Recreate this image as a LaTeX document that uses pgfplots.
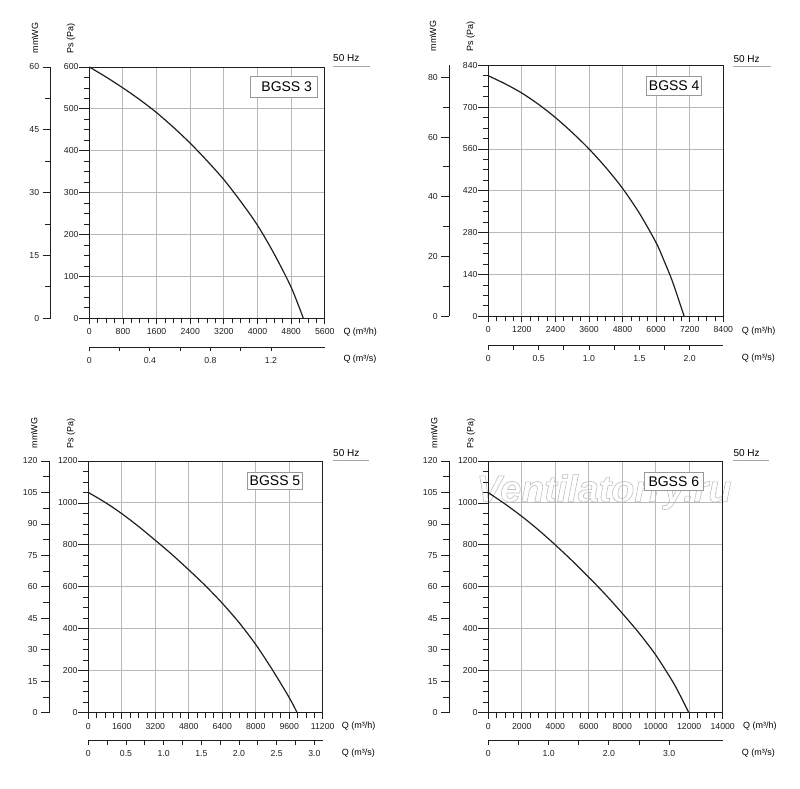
\documentclass[border=0pt]{standalone}
\usepackage{pgfplots}
\pgfplotsset{compat=1.18}
\usepackage{fontspec}
\setmainfont{Liberation Sans}
\definecolor{ink}{gray}{0.12}
\pgfplotsset{
 every axis/.append style={scale only axis,
   /pgf/number format/assume math mode=true,
   /pgf/number format/set thousands separator={},
   scaled x ticks=false, scaled y ticks=false,
   tick label style={font=\fontsize{8.7}{10}\selectfont, text=ink}},
 mainax/.style={xmin=0, ymin=0, grid=major,
   major grid style={gray!55, line width=0.9pt},
   tick align=outside, xtick pos=bottom, ytick pos=left,
   axis line style={ink, line width=0.8pt},
   tick style={ink, line width=0.8pt},
   major x tick style={/pgfplots/major tick length=6pt},
   minor x tick style={/pgfplots/minor tick length=5pt},
   major y tick style={/pgfplots/major tick length=10pt},
   minor y tick style={/pgfplots/minor tick length=5pt},
   yticklabel style={xshift=-3pt},
   xticklabel style={yshift=-2.5pt},
   minor x tick num=3, minor y tick num=3},
 mmax/.style={axis x line=none, axis y line*=left, xmin=0, xmax=1, width=1pt,
   xtick=\empty, ymin=0, tick align=outside,
   axis line style={ink, line width=0.8pt},
   tick style={ink, line width=0.8pt},
   major tick length=8pt, minor tick length=6pt, minor y tick num=1},
 m3sax/.style={axis y line=none, axis x line*=bottom, ymin=0, ymax=1, height=1pt,
   ytick=\empty, xmin=0, tick align=outside,
   axis line style={ink, line width=0.8pt},
   tick style={ink, line width=0.8pt},
   xticklabel style={yshift=-2pt},
   major tick length=4pt, minor tick length=4pt, minor x tick num=1},
 curve/.style={ink, line width=1.2pt, smooth, no markers},
}
\newcommand\lbl{\fontsize{9}{10}\selectfont}
\newcommand\bigname{\fontsize{14}{16}\selectfont}
\newcommand\wm{\fontsize{37.7}{40}\selectfont\bfseries\itshape}
\begin{document}
\begin{tikzpicture}[x=1pt,y=1pt]
\path (0,0) rectangle (800,789);

% ---------------- Panel 1: BGSS 3 ----------------
\begin{axis}[mainax, at={(89.3pt,470.7pt)}, anchor=south west, width=235.5pt, height=251.3pt,
  xmax=5600, ymax=600, xtick={0,800,...,5600}, ytick={0,100,...,600}]
\addplot[curve] coordinates {(0,600) (400,576) (800,550) (1200,522) (1600,491) (2000,456) (2400,418) (2800,376) (3200,331) (3600,279) (4000,222) (4400,153) (4800,74) (5090,0)};
\end{axis}
\begin{axis}[mmax, at={(50.7pt,470.7pt)}, anchor=south west, height=251.3pt,
  ymax=60, ytick={0,15,...,60}]
\end{axis}
\begin{axis}[m3sax, at={(89.3pt,441.5pt)}, anchor=south west, width=235.5pt,
  xmax=1.5556, xtick={0,0.4,0.8,1.2}, xticklabels={0,0.4,0.8,1.2}]
\end{axis}
\node[rotate=90, anchor=west, font=\lbl] at (35,732) {mmWG};
\node[rotate=90, anchor=west, font=\lbl] at (71,732) {Ps (Pa)};
\node[anchor=base west, inner sep=0pt, font=\fontsize{10}{12}\selectfont] at (333,727) {50 Hz};
\draw[gray!70, line width=0.8pt] (333,723) -- (370,723);
\node[anchor=west, inner sep=0pt, font=\lbl] at (343.3,457) {Q (m³/h)};
\node[anchor=west, inner sep=0pt, font=\lbl] at (343.3,429.7) {Q (m³/s)};
\draw[gray!80, fill=white, line width=0.8pt] (250.7,713) rectangle (317.3,692);
\node[font=\bigname, inner sep=0pt] at (286.7,702.5) {BGSS 3};

% ---------------- Panel 2: BGSS 4 ----------------
\begin{axis}[mainax, at={(488.3pt,472.7pt)}, anchor=south west, width=235pt, height=251pt,
  xmax=8400, ymax=840, xtick={0,1200,...,8400}, ytick={0,140,...,840}]
\addplot[curve] coordinates {(0,805) (600,778) (1200,747) (1800,709) (2400,665) (3000,615) (3600,560) (4200,498) (4800,428) (5400,345) (6000,246) (6300,182) (6600,112) (7000,0)};
\end{axis}
\begin{axis}[mmax, at={(449.3pt,472.7pt)}, anchor=south west, height=251pt,
  ymax=84, ytick={0,20,...,80}]
\end{axis}
\begin{axis}[m3sax, at={(488.3pt,443.3pt)}, anchor=south west, width=235pt,
  xmax=2.3333, xtick={0,0.5,1,1.5,2}, xticklabels={0,0.5,1.0,1.5,2.0}]
\end{axis}
\node[rotate=90, anchor=west, font=\lbl] at (433,734) {mmWG};
\node[rotate=90, anchor=west, font=\lbl] at (470.7,734) {Ps (Pa)};
\node[anchor=base west, inner sep=0pt, font=\fontsize{10}{12}\selectfont] at (733.3,726.7) {50 Hz};
\draw[gray!70, line width=0.8pt] (733,723) -- (770.7,723);
\node[anchor=west, inner sep=0pt, font=\lbl] at (741.7,458) {Q (m³/h)};
\node[anchor=west, inner sep=0pt, font=\lbl] at (741.7,431.3) {Q (m³/s)};
\draw[gray!80, fill=white, line width=0.8pt] (646.7,713) rectangle (701.7,694);
\node[font=\bigname, inner sep=0pt] at (674.2,703.5) {BGSS 4};

% ---------------- Panel 3: BGSS 5 ----------------
\begin{axis}[mainax, at={(88.3pt,76.3pt)}, anchor=south west, width=234.4pt, height=251.7pt,
  xmax=11200, ymax=1200, xtick={0,1600,...,11200}, ytick={0,200,...,1200}]
\addplot[curve] coordinates {(0,1050) (800,1003) (1600,949) (2400,888) (3200,822) (4000,754) (4800,681) (5600,605) (6400,522) (7200,430) (8000,325) (8800,204) (9600,72) (9980,0)};
\end{axis}
\begin{axis}[mmax, at={(49pt,76.3pt)}, anchor=south west, height=251.7pt,
  ymax=120, ytick={0,15,...,120}]
\end{axis}
\begin{axis}[m3sax, at={(88.3pt,48.3pt)}, anchor=south west, width=234.4pt,
  xmax=3.1111, xtick={0,0.5,1,1.5,2,2.5,3}, xticklabels={0,0.5,1.0,1.5,2.0,2.5,3.0}]
\end{axis}
\node[rotate=90, anchor=west, font=\lbl] at (34.3,337) {mmWG};
\node[rotate=90, anchor=west, font=\lbl] at (71,337) {Ps (Pa)};
\node[anchor=base west, inner sep=0pt, font=\fontsize{10}{12}\selectfont] at (333,332.3) {50 Hz};
\draw[gray!70, line width=0.8pt] (333,328.7) -- (369,328.7);
\node[anchor=west, inner sep=0pt, font=\lbl] at (341.7,63) {Q (m³/h)};
\node[anchor=west, inner sep=0pt, font=\lbl] at (341.7,35.7) {Q (m³/s)};
\draw[gray!80, fill=white, line width=0.8pt] (247.3,316.7) rectangle (302.7,300);
\node[font=\bigname, inner sep=0pt] at (275,308.3) {BGSS 5};

% ---------------- Panel 4: BGSS 6 ----------------
% watermark as outlined text, drawn beneath the axis
\node[font=\wm, text=gray!50, inner sep=0pt] at (604,297)
  {\special{pdf:literal direct 1 Tr 0.6 w}Ventilatorry.ru\special{pdf:literal direct 0 Tr}};
\begin{axis}[mainax, at={(488.3pt,76.3pt)}, anchor=south west, width=234.4pt, height=251.7pt,
  xmax=14000, ymax=1200, xtick={0,2000,...,14000}, ytick={0,200,...,1200}]
\addplot[curve] coordinates {(0,1049) (1000,995) (2000,936) (3000,871) (4000,800) (5000,725) (6000,646) (7000,563) (8000,474) (9000,380) (10000,275) (11000,150) (11500,76) (11980,0)};
\end{axis}
\begin{axis}[mmax, at={(449pt,76.3pt)}, anchor=south west, height=251.7pt,
  ymax=120, ytick={0,15,...,120}]
\end{axis}
\begin{axis}[m3sax, at={(488.3pt,48.3pt)}, anchor=south west, width=234.4pt,
  xmax=3.8889, xtick={0,1,2,3}, xticklabels={0,1.0,2.0,3.0}]
\end{axis}
\node[rotate=90, anchor=west, font=\lbl] at (434.3,337) {mmWG};
\node[rotate=90, anchor=west, font=\lbl] at (471,337) {Ps (Pa)};
\node[anchor=base west, inner sep=0pt, font=\fontsize{10}{12}\selectfont] at (733.3,332.3) {50 Hz};
\draw[gray!70, line width=0.8pt] (733,328.7) -- (769,328.7);
\node[anchor=west, inner sep=0pt, font=\lbl] at (743,63) {Q (m³/h)};
\node[anchor=west, inner sep=0pt, font=\lbl] at (741.7,35.7) {Q (m³/s)};
\draw[gray!80, fill=white, line width=0.8pt] (644.3,316.3) rectangle (703.3,299);
\node[font=\bigname, inner sep=0pt] at (673.8,307.7) {BGSS 6};
\end{tikzpicture}
\end{document}
